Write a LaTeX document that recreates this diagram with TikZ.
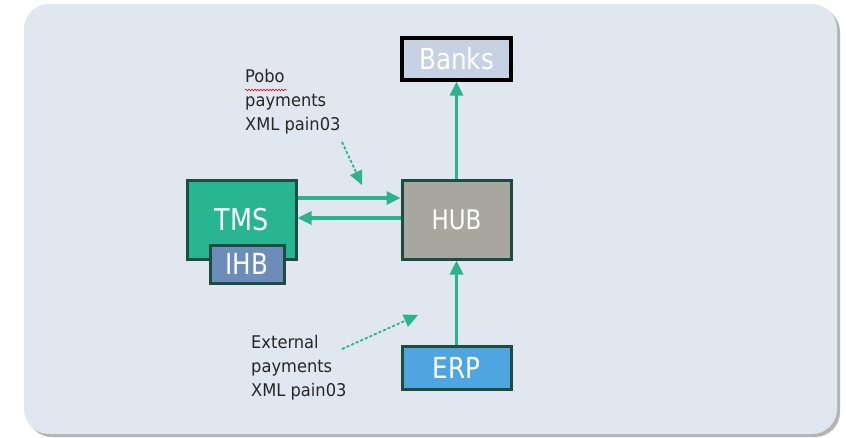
\documentclass[tikz,border=0pt]{standalone}
\usepackage{fontspec}
\setmainfont{DejaVu Sans}
\newfontfamily\boxfont[FakeStretch=0.85]{DejaVu Sans}
\newfontfamily\notefont[FakeStretch=0.93]{DejaVu Sans}
\usetikzlibrary{arrows.meta,decorations.pathmorphing}
\definecolor{bgc}{HTML}{E1E7F1}
\definecolor{shadowc}{HTML}{B4B4B4}
\definecolor{banksc}{HTML}{C6D2E3}
\definecolor{hubc}{HTML}{A8A79F}
\definecolor{tmsc}{HTML}{27B592}
\definecolor{ihbc}{HTML}{6C8DBA}
\definecolor{erpc}{HTML}{4FA5E0}
\definecolor{borderc}{HTML}{1D4D3F}
\definecolor{arrowc}{HTML}{2BB38E}
\definecolor{textc}{HTML}{262626}
\begin{document}
\begin{tikzpicture}[x=1pt,y=-1pt,
  sysbox/.style={draw=borderc,line width=3pt,inner sep=0pt,text=white,align=center},
  flow/.style={draw=arrowc,line width=3.2pt,-{Triangle[length=14pt,width=13pt]}},
  note/.style={draw=arrowc,line width=1.8pt,densely dashed,-{Triangle[length=14pt,width=13pt]}},
  label/.style={anchor=north west,inner sep=0pt,align=left,text=textc,font=\notefont\fontsize{17.5}{24}\selectfont}
]
\useasboundingbox (0,0) rectangle (846,437);
\fill[white] (0,0) rectangle (846,437);
% background panel with shadow
\fill[shadowc,rounded corners=25pt] (27,7) rectangle (840,437);
\fill[bgc,rounded corners=25pt] (24,4) rectangle (837,434);

% nodes
\node[sysbox,draw=black,line width=3.2pt,fill=banksc,minimum width=109pt,minimum height=42pt,font=\boxfont\fontsize{29}{30}\selectfont] (banks) at (456.5,59) {Banks};
\node[sysbox,fill=hubc,minimum width=109pt,minimum height=79pt,font=\boxfont\fontsize{27}{28}\selectfont] (hub) at (456.5,219.5) {HUB};
\node[sysbox,fill=tmsc,minimum width=109pt,minimum height=79pt,font=\boxfont\fontsize{30}{30}\selectfont] (tms) at (241.5,219.5) {TMS};
\node[sysbox,fill=ihbc,minimum width=74pt,minimum height=38pt,font=\boxfont\fontsize{29}{30}\selectfont] (ihb) at (247,264) {IHB};
\node[sysbox,fill=erpc,minimum width=109pt,minimum height=43pt,font=\boxfont\fontsize{29}{30}\selectfont] (erp) at (456.5,367.5) {ERP};

% connectors
\draw[flow] (hub.north) -- (banks.south);
\draw[flow] (erp.north) -- (hub.south);
\draw[flow] ([yshift=21.5pt]tms.east) -- ([yshift=21.5pt]hub.west);
\draw[flow] ([yshift=1.5pt]hub.west) -- ([yshift=1.5pt]tms.east);

% labels
\node[label] (pobo) at (245,69) {Pobo\\payments\\XML pain03};
\node[label] (ext) at (251,335) {External\\payments\\XML pain03};
\draw[red!85!black,line width=0.6pt,decorate,decoration={snake,segment length=3pt,amplitude=0.8pt}] (245,90) -- (287,90);

% dashed pointers
\coordinate (p1s) at (342,142);
\coordinate (p1e) at (362,185);
\coordinate (p2s) at (342,349);
\coordinate (p2e) at (418,315);
\draw[note] (p1s) -- (p1e);
\draw[note] (p2s) -- (p2e);
\end{tikzpicture}
\end{document}
